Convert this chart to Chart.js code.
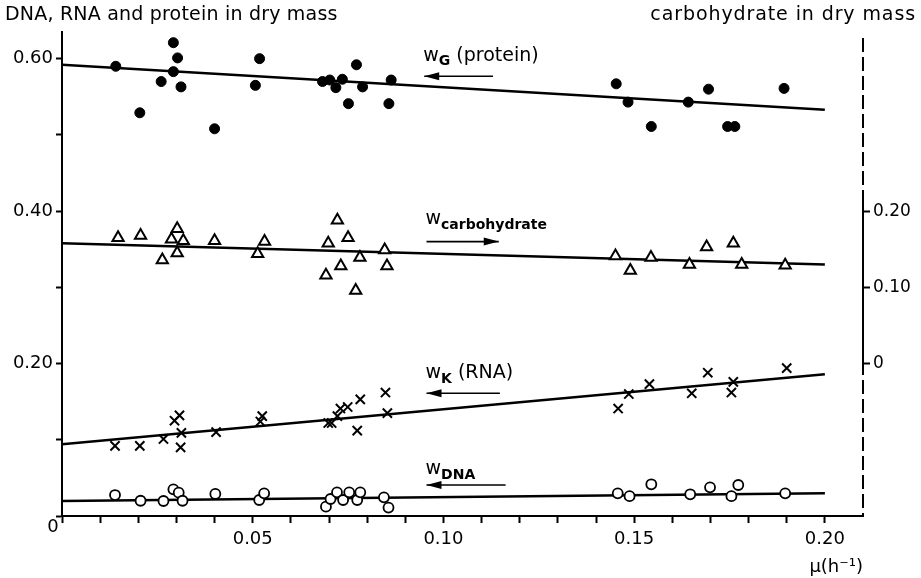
<!DOCTYPE html>
<html>
<head>
<meta charset="utf-8">
<script src="https://cdn.jsdelivr.net/npm/chart.js@4"></script>
<style>
  html, body { margin: 0; padding: 0; background: #fff; }
  #wrap { width: 921px; height: 578px; position: relative; }
</style>
</head>
<body>
<div id="wrap"><canvas id="chart"></canvas></div>
<script>
// growth rate mu (h^-1) and fractions in dry mass
const proteinMu = [0.0141, 0.0204, 0.0260, 0.0292, 0.0303, 0.0292, 0.0312, 0.0400, 0.0507, 0.0518,
                   0.0683, 0.0702, 0.0718, 0.0735, 0.0751, 0.0772, 0.0788, 0.0857, 0.0863,
                   0.1453, 0.1484, 0.1545, 0.1642, 0.1695, 0.1745, 0.1764, 0.1893];
const proteinW  = [0.590, 0.529, 0.570, 0.621, 0.601, 0.583, 0.563, 0.508, 0.565, 0.600,
                   0.570, 0.572, 0.562, 0.573, 0.541, 0.592, 0.563, 0.541, 0.572,
                   0.567, 0.543, 0.511, 0.543, 0.560, 0.511, 0.511, 0.561];

const carbMu = [0.0147, 0.0206, 0.0263, 0.0302, 0.0287, 0.0318, 0.0302, 0.0400, 0.0513, 0.0531,
                0.0698, 0.0722, 0.0750, 0.0781, 0.0731, 0.0692, 0.0770, 0.0846, 0.0852,
                0.1451, 0.1490, 0.1544, 0.1645, 0.1690, 0.1760, 0.1782, 0.1896];
const carbW  = [0.165, 0.168, 0.136, 0.177, 0.163, 0.161, 0.145, 0.161, 0.144, 0.160,
                0.158, 0.188, 0.165, 0.139, 0.128, 0.116, 0.096, 0.149, 0.128,
                0.141, 0.122, 0.139, 0.130, 0.153, 0.158, 0.130, 0.129];

const rnaMu = [0.0139, 0.0204, 0.0266, 0.0295, 0.0308, 0.0313, 0.0311, 0.0404, 0.0520, 0.0525,
               0.0698, 0.0707, 0.0722, 0.0730, 0.0749, 0.0782, 0.0774, 0.0848, 0.0853,
               0.1458, 0.1486, 0.1540, 0.1651, 0.1693, 0.1760, 0.1755, 0.1900];
const rnaW  = [0.092, 0.092, 0.101, 0.125, 0.132, 0.109, 0.090, 0.110, 0.124, 0.131,
               0.122, 0.122, 0.131, 0.141, 0.143, 0.153, 0.112, 0.162, 0.135,
               0.141, 0.160, 0.173, 0.161, 0.188, 0.176, 0.162, 0.194];

const dnaMu = [0.0139, 0.0206, 0.0266, 0.0292, 0.0306, 0.0316, 0.0402, 0.0517, 0.0530,
               0.0692, 0.0704, 0.0721, 0.0737, 0.0753, 0.0774, 0.0782, 0.0844, 0.0856,
               0.1457, 0.1488, 0.1545, 0.1647, 0.1699, 0.1755, 0.1773, 0.1896];
const dnaW  = [0.0275, 0.020, 0.0197, 0.035, 0.0306, 0.020, 0.0289, 0.021, 0.0297,
               0.0122, 0.0223, 0.031, 0.021, 0.031, 0.021, 0.031, 0.0245, 0.011,
               0.0297, 0.026, 0.0416, 0.0285, 0.0376, 0.026, 0.0407, 0.0297];

// fitted lines, end points at mu = 0 and mu = 0.20
const fitMu      = [0, 0.20];
const proteinFit = [0.592, 0.533];
const carbFit    = [0.158, 0.130];
const rnaFit     = [0.094, 0.186];
const dnaFit     = [0.0197, 0.0297];

const xLabels  = [0.05, 0.10, 0.15, 0.20];
const yLabels  = [0.20, 0.40, 0.60];
const y2Labels = [0, 0.10, 0.20];

const pts = (xs, ys) => xs.map((x, i) => ({ x: x, y: ys[i] }));
const FONT = '"DejaVu Sans", sans-serif';
const r2 = v => Math.round(v * 100);

// text labels with arrows, placed in data units of the left axis
const notes = [
  { x: 0.0947, y: 0.604, main: 'w', sub: 'G', rest: ' (protein)', arrowY: 0.577, arrowTo: 0.113, dir: -1 },
  { x: 0.0953, y: 0.389, main: 'w', sub: 'carbohydrate', rest: '', arrowY: 0.360, arrowTo: 0.1145, dir: 1 },
  { x: 0.0953, y: 0.187, main: 'w', sub: 'K', rest: ' (RNA)', arrowY: 0.161, arrowTo: 0.1148, dir: -1 },
  { x: 0.0953, y: 0.061, main: 'w', sub: 'DNA', rest: '', arrowY: 0.0406, arrowTo: 0.1163, dir: -1 }
];

const decor = {
  id: 'decor',
  beforeDraw(chart) {
    const c = chart.ctx;
    c.save();
    c.fillStyle = '#fff';
    c.fillRect(0, 0, chart.width, chart.height);
    c.restore();
  },
  afterDraw(chart) {
    const c = chart.ctx;
    const xs = chart.scales.x, ys = chart.scales.y, y2 = chart.scales.y2;
    c.save();
    c.fillStyle = '#000';
    c.strokeStyle = '#000';
    c.textBaseline = 'middle';

    // axis titles
    c.font = '19px ' + FONT;
    c.letterSpacing = '0.2px';
    c.textAlign = 'left';
    c.fillText('DNA, RNA and protein in dry mass', 5, 15);
    c.letterSpacing = '0.9px';
    c.textAlign = 'right';
    c.fillText('carbohydrate in dry mass', 916, 15);
    c.letterSpacing = '0px';

    // shared origin label
    c.font = '18px ' + FONT;
    c.textAlign = 'center';
    c.fillText('0', xs.left - 9, ys.bottom + 11);

    // right axis: dashed, solid over the carbohydrate range
    const rx = xs.right;
    c.lineWidth = 2;
    c.setLineDash([14, 5]);
    c.beginPath();
    c.moveTo(rx, 38);
    c.lineTo(rx, ys.bottom);
    c.stroke();
    c.setLineDash([]);
    c.beginPath();
    c.moveTo(rx, y2.getPixelForValue(0));
    c.lineTo(rx, y2.getPixelForValue(0.215));
    c.stroke();

    // notes
    notes.forEach(n => {
      let px = xs.getPixelForValue(n.x);
      const py = ys.getPixelForValue(n.y);
      c.textAlign = 'left';
      c.font = '19px ' + FONT;
      c.fillText(n.main, px, py);
      px += c.measureText(n.main).width;
      c.font = 'bold 14px ' + FONT;
      c.fillText(n.sub, px, py + 6);
      px += c.measureText(n.sub).width;
      if (n.rest) {
        c.font = '19px ' + FONT;
        c.fillText(n.rest, px, py);
      }
      const ay = ys.getPixelForValue(n.arrowY);
      const a0 = xs.getPixelForValue(n.x) + 1;
      const a1 = xs.getPixelForValue(n.arrowTo);
      c.lineWidth = 1.6;
      c.beginPath();
      c.moveTo(a0, ay);
      c.lineTo(a1, ay);
      c.stroke();
      const tip = n.dir < 0 ? a0 : a1;
      c.beginPath();
      c.moveTo(tip, ay);
      c.lineTo(tip - n.dir * 15, ay - 4);
      c.lineTo(tip - n.dir * 15, ay + 4);
      c.closePath();
      c.fill();
    });
    c.restore();
  }
};

const lineSet = (ys, axis) => ({
  data: pts(fitMu, ys), yAxisID: axis, showLine: true, pointRadius: 0,
  borderColor: '#000', borderWidth: 2.5, order: 2
});

new Chart(document.getElementById('chart'), {
  type: 'scatter',
  data: {
    datasets: [
      { data: pts(proteinMu, proteinW), yAxisID: 'y', pointStyle: 'circle', pointRadius: 5,
        backgroundColor: '#000', borderColor: '#000', borderWidth: 1, order: 1 },
      { data: pts(carbMu, carbW), yAxisID: 'y2', pointStyle: 'triangle', pointRadius: 6.5,
        backgroundColor: '#fff', borderColor: '#000', borderWidth: 2, order: 1 },
      { data: pts(rnaMu, rnaW), yAxisID: 'y', pointStyle: 'crossRot', pointRadius: 6.5,
        backgroundColor: '#000', borderColor: '#000', borderWidth: 2, order: 1 },
      { data: pts(dnaMu, dnaW), yAxisID: 'y', pointStyle: 'circle', pointRadius: 5,
        backgroundColor: '#fff', borderColor: '#000', borderWidth: 1.8, order: 1 },
      lineSet(proteinFit, 'y'),
      lineSet(carbFit, 'y2'),
      lineSet(rnaFit, 'y'),
      lineSet(dnaFit, 'y')
    ]
  },
  options: {
    responsive: true,
    maintainAspectRatio: false,
    animation: false,
    layout: { padding: { top: 32, left: 0, right: 0, bottom: 0 } },
    plugins: { legend: { display: false }, tooltip: { enabled: false } },
    scales: {
      x: {
        type: 'linear', min: 0, max: 0.21,
        afterFit: s => { s.height = 62; },
        border: { color: '#000', width: 2 },
        grid: {
          drawOnChartArea: false, tickLength: 7, tickWidth: 2,
          tickColor: ctx => (ctx.tick && r2(ctx.tick.value) >= 21) ? 'rgba(0,0,0,0)' : '#000'
        },
        ticks: {
          stepSize: 0.01, autoSkip: false, maxRotation: 0, padding: 6, color: '#000',
          font: { family: FONT, size: 18 },
          callback: v => xLabels.some(t => r2(t) === r2(v)) ? (r2(v) / 100).toFixed(2) : ''
        },
        title: {
          display: true, text: 'μ(h⁻¹)', align: 'end', color: '#000',
          font: { family: FONT, size: 18 }, padding: { top: 0, bottom: 0 }
        }
      },
      y: {
        position: 'left', min: 0, max: 0.635,
        afterFit: s => { s.width = 62; },
        border: { color: '#000', width: 2 },
        grid: {
          drawOnChartArea: false, tickLength: 6, tickWidth: 2,
          tickColor: ctx => (ctx.tick && r2(ctx.tick.value) % 10 !== 0) ? 'rgba(0,0,0,0)' : '#000'
        },
        ticks: {
          stepSize: 0.1, autoSkip: false, padding: 3, color: '#000',
          font: { family: FONT, size: 18 },
          callback: v => yLabels.some(t => r2(t) === r2(v)) ? (r2(v) / 100).toFixed(2) : ''
        }
      },
      y2: {
        position: 'right', min: -0.2, max: 0.435,
        afterFit: s => { s.width = 58; },
        border: { display: false },
        grid: {
          drawOnChartArea: false, tickLength: 7, tickWidth: 2,
          tickColor: ctx => (ctx.tick && y2Labels.some(t => r2(t) === r2(ctx.tick.value))) ? '#000' : 'rgba(0,0,0,0)'
        },
        ticks: {
          stepSize: 0.1, autoSkip: false, padding: 3, color: '#000',
          font: { family: FONT, size: 17 },
          callback: v => y2Labels.some(t => r2(t) === r2(v)) ? (r2(v) === 0 ? '0' : (r2(v) / 100).toFixed(2)) : ''
        }
      }
    }
  },
  plugins: [decor]
});
</script>
</body>
</html>
